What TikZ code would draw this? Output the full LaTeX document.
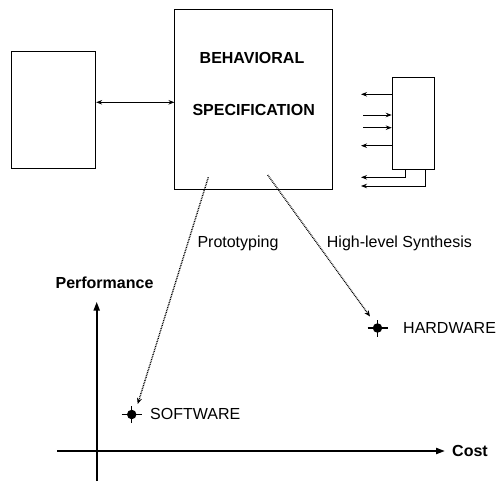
\documentclass[tikz,border=0pt]{standalone}
\usepackage{fontspec}
\setmainfont{Liberation Sans}
\usetikzlibrary{arrows.meta}
\tikzset{
  boxstyle/.style={draw, line width=1pt, inner sep=0pt},
  heading/.style={font=\fontsize{16}{19}\selectfont\bfseries, inner sep=0pt},
  plain/.style={font=\fontsize{16}{19}\selectfont, inner sep=0pt},
  pin/.style={-{Stealth[length=6pt,width=4.5pt]}, line width=0.9pt},
  flow/.style={-{Stealth[length=6pt,width=5pt]}, line width=1.4pt, dash pattern=on 0.8pt off 0.9pt},
  axis/.style={-{Triangle[length=9pt,width=6pt]}, line width=2pt},
  mark dot/.style={circle, fill=black, minimum size=9.5pt, inner sep=0pt}
}
\begin{document}
\begin{tikzpicture}[x=1pt,y=-1pt]
\useasboundingbox (0,0) rectangle (497,481);

% environment block and the behavioral specification
\node[boxstyle, minimum width=83.7pt, minimum height=116.3pt] (env) at (53.8,110.1) {};
\node[boxstyle, minimum width=157.5pt, minimum height=179pt] (spec) at (253.7,99.5) {};
\node[heading] (beh) at (252,58) {BEHAVIORAL};
\node[heading] (specl) at (253.7,110) {SPECIFICATION};
\coordinate (linkL) at (env.east |- 0,102.3);
\coordinate (linkR) at (spec.west |- 0,102.3);
\draw[{Stealth[length=6pt,width=4.5pt]}-{Stealth[length=6pt,width=4.5pt]}, line width=0.9pt] (linkL) -- (linkR);

% component with its ports
\node[boxstyle, minimum width=42.7pt, minimum height=91pt] (comp) at (413.6,123.5) {};
\foreach \n/\y in {a/94.3,d/145.7}{
  \coordinate (p\n) at (comp.west |- 0,\y);
  \coordinate (q\n) at (361,\y);
  \draw[pin] (p\n) -- (q\n);
}
\foreach \n/\y in {b/115,c/127.7}{
  \coordinate (p\n) at (comp.west |- 0,\y);
  \coordinate (q\n) at (363,\y);
  \draw[pin] (q\n) -- (p\n);
}
\coordinate (pe) at (405,169);
\coordinate (qe) at (361,177.3);
\coordinate (pf) at (425,169);
\coordinate (qf) at (361,186);
\draw[pin] (pe) |- (qe);
\draw[pin] (pf) |- (qf);

% axes
\coordinate (yb) at (96.7,481);
\coordinate (yt) at (96.7,301.7);
\coordinate (xl) at (57.3,451);
\coordinate (xr) at (445,451);
\draw[axis] (yb) -- (yt);
\draw[axis] (xl) -- (xr);
\node[heading] (perf) at (104.5,282.7) {Performance};
\node[heading, anchor=west] (cost) at (452,451) {Cost};

% design points
\node[mark dot] (sw) at (131.7,414.5) {};
\node[mark dot] (hw) at (377.5,328) {};
\foreach \p in {sw,hw}{
  \draw[line width=1.1pt] ([xshift=-10pt]\p.center) -- ([xshift=10pt]\p.center);
  \draw[line width=1.1pt] ([yshift=-8.5pt]\p.center) -- ([yshift=8.5pt]\p.center);
}
\node[plain, anchor=west] (swl) at (150,414) {SOFTWARE};
\node[plain, anchor=west] (hwl) at (403,328) {HARDWARE};

% refinement paths
\coordinate (s1) at (208.3,177.3);
\coordinate (e1) at (137.7,404);
\coordinate (s2) at (267.7,175);
\coordinate (e2) at (370,316.5);
\draw[flow] (s1) -- (e1);
\draw[flow] (s2) -- (e2);
\node[plain, anchor=west] (proto) at (197.3,243) {Prototyping};
\node[plain, anchor=west] (hls) at (326.7,243) {High-level Synthesis};
\end{tikzpicture}
\end{document}
